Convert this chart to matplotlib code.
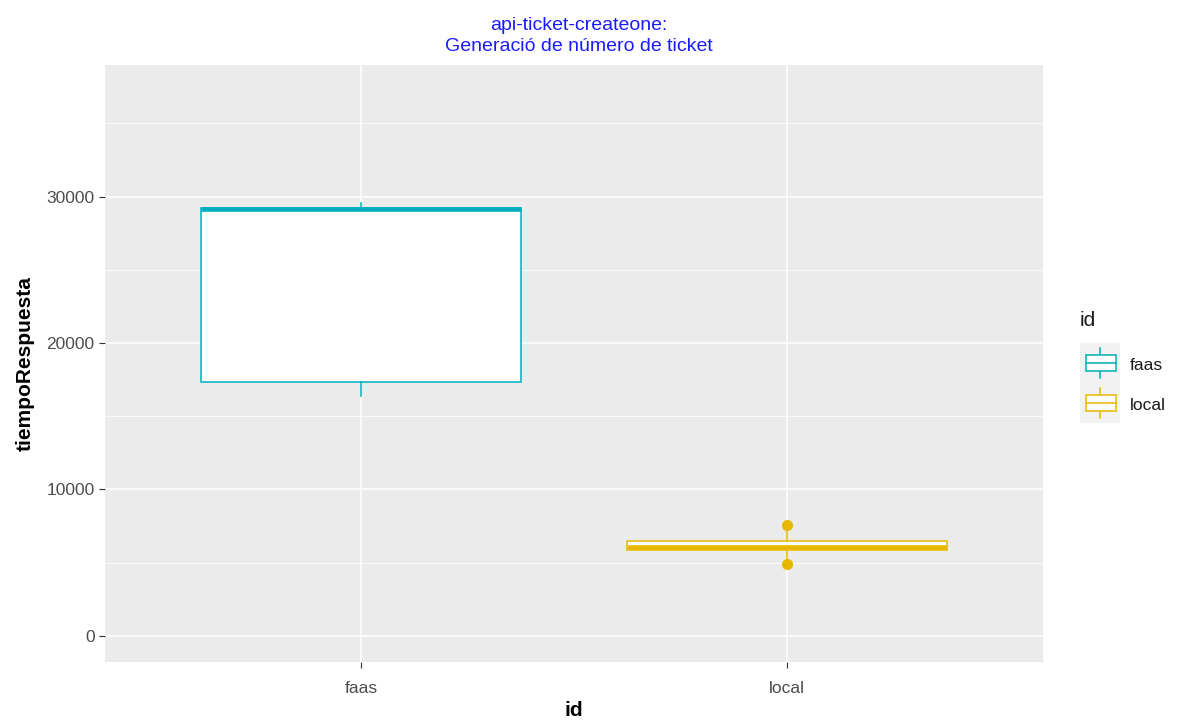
import matplotlib
matplotlib.use('Agg')
import matplotlib.pyplot as plt
from matplotlib.patches import Rectangle

plt.rcParams['font.family'] = ['Liberation Sans', 'DejaVu Sans']

# Response times (ms) summarised per deployment
ids = ['faas', 'local']
colors = ['#00AFBB', '#E7B800']
whislo = [16360, 4915]
q1 = [17340, 5900]
med = [29150, 6060]
q3 = [29230, 6500]
whishi = [29560, 7577]
outliers = [[], [7577, 4915]]

W, H = 1181, 724
fig = plt.figure(figsize=(W / 100, H / 100), dpi=100)
ax = fig.add_axes([105 / W, 1 - 662 / H, (1043 - 105) / W, (662 - 65) / H])
ax.set_facecolor('#EBEBEB')

stats = []
for i, name in enumerate(ids):
    stats.append(dict(label=name, whislo=whislo[i], q1=q1[i], med=med[i],
                      q3=q3[i], whishi=whishi[i], fliers=outliers[i]))

bp = ax.bxp(stats, positions=[1, 2], widths=0.75, showcaps=False,
            patch_artist=True, zorder=3)
for i, c in enumerate(colors):
    bp['boxes'][i].set(facecolor='white', edgecolor=c, linewidth=1.1)
    bp['medians'][i].set(color=c, linewidth=3.3, solid_capstyle='butt')
    for w in bp['whiskers'][2 * i:2 * i + 2]:
        w.set(color=c, linewidth=1.1)
    bp['fliers'][i].set(marker='o', markerfacecolor=c, markeredgecolor=c,
                        markersize=7)

ax.set_xlim(0.4, 2.6)
ax.set_ylim(-1780, 38980)
ax.set_yticks([0, 10000, 20000, 30000])
ax.set_yticks([5000, 15000, 25000, 35000], minor=True)
ax.set_xticks([1, 2])
ax.set_xticklabels(ids)
ax.grid(which='major', color='white', linewidth=1.1, zorder=0)
ax.grid(which='minor', axis='y', color='white', linewidth=0.55, zorder=0)
ax.set_axisbelow(True)
for s in ax.spines.values():
    s.set_visible(False)
ax.tick_params(which='major', length=4, color='#333333', labelcolor='#4D4D4D',
               labelsize=12.5, width=0.8)
ax.tick_params(which='minor', length=0)
ax.tick_params(axis='x', pad=10)

ax.set_xlabel('id', fontsize=15, fontweight='bold', labelpad=3)
ax.set_ylabel('tiempoRespuesta', fontsize=15, fontweight='bold', labelpad=8)
ax.set_title('api-ticket-createone:\nGeneració de número de ticket',
             color='#1A1AFF', fontsize=14, pad=10, linespacing=1.35,
             x=0.505)

# legend drawn by hand, ggplot style keys
lg = fig.add_axes([1080 / W, 1 - 423 / H, 40 / W, 80 / H])
lg.set_facecolor('#F2F2F2')
lg.set_xlim(0, 40)
lg.set_ylim(80, 0)
lg.set_xticks([])
lg.set_yticks([])
for s in lg.spines.values():
    s.set_visible(False)
for i, c in enumerate(colors):
    cy = 20 + 40 * i
    lg.plot([20, 20], [cy - 15, cy + 15], color=c, linewidth=1.1)
    lg.add_patch(Rectangle((6, cy - 8), 30, 16, facecolor='white',
                           edgecolor=c, linewidth=1.1, zorder=3))
    lg.plot([6, 36], [cy, cy], color=c, linewidth=1.1, zorder=4)
    fig.text(1130 / W, 1 - (cy + 345) / H, ids[i], fontsize=12.5,
             color='#1A1A1A', va='center', ha='left')
fig.text(1080 / W, 1 - 320 / H, 'id', fontsize=15, color='#1A1A1A',
         va='center', ha='left')

fig.savefig('out.png', dpi=100)
